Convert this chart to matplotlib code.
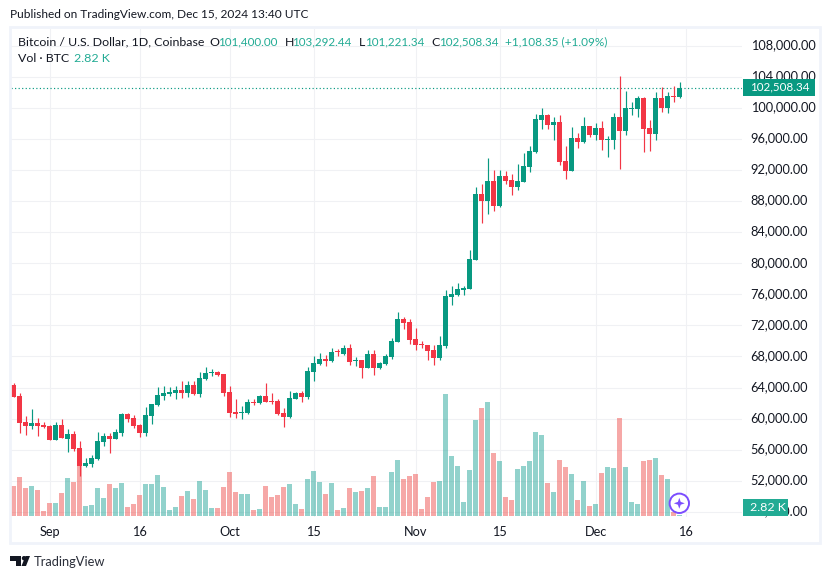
import numpy as np
import matplotlib
matplotlib.use("Agg")
import matplotlib.pyplot as plt
import matplotlib.dates as mdates
from matplotlib.patches import Rectangle, Circle, Polygon
from matplotlib.transforms import ScaledTranslation

opens = [64321,62906,59560,59045,59431,59174,59045,57243,59174,57372,58015,56213,53897,54154,54798,56986,57758,57372,58144,60589,
         60074,59174,58144,60332,61748,62906,63163,63292,63678,63292,64321,63163,65094,65866,65995,65737,63421,60847,60718,60718,
         62134,62005,62906,62262,62262,60718,60203,62520,63292,62777,65995,67024,67668,67410,68654,68268,69083,67410,67539,66509,
         68311,66509,67024,67925,69856,72816,72430,70242,69598,69470,68826,67796,69341,75647,75905,76548,76677,80409,88903,88002,
         90576,87359,91220,90705,89804,90448,92378,94309,98427,99071,97784,98170,93150,91863,96110,95596,97655,96497,97397,95853,
         95853,98813,97011,99843,99843,101258,97397,96625,101258,99971,101516,101400]
highs = [64579,63292,60332,61233,60074,59560,59174,59560,59946,58659,58401,57114,54927,55313,58273,58144,58144,58659,60718,60718,
         60461,59302,61490,61876,64064,64193,64064,64193,64836,64836,64836,65995,66638,66381,66123,65737,64193,62520,61619,62520,
         62520,63035,64579,63292,62520,61361,63549,63421,63549,66638,68054,68440,68182,69083,68955,69470,69598,67925,67539,68826,
         68826,67282,68311,70370,73717,73073,72816,71657,69985,69470,69470,70628,76548,77063,77449,77063,81696,89804,90190,93536,
         91992,91992,91863,91477,92764,94180,95081,99199,99971,99199,98813,99071,95081,97526,96754,98813,97655,98041,98298,96368,
         99328,104090,102159,100744,101516,101387,98427,102031,102674,102031,102803,103292]
lows = [62777,58144,57887,58659,57758,58787,57243,57243,57500,55699,55827,52610,53768,53768,54669,56471,55570,57372,57758,59560,
        58787,57629,57758,59302,61619,62391,62906,62520,62648,62777,63035,62777,64965,65480,65480,62906,60203,60074,59946,60589,
        61747,61876,62134,61876,60461,58916,60074,62520,62134,62520,64836,66896,66767,67282,68054,68182,66896,66767,65222,66509,
        65609,66381,66896,67668,69856,71529,69598,68826,69083,67539,66896,67539,69100,74618,75776,75905,76677,80409,85171,86329,
        86715,87230,90190,88775,89418,90448,91735,94180,97269,97269,95853,92636,90834,91863,94823,95467,96239,95853,94566,93665,
        94695,92121,96497,99071,98813,94309,94437,95853,99457,99328,100744,101221]
closes = [62777,59431,59045,59431,59045,58916,57243,59174,57500,58015,56085,53897,54283,54927,57114,57758,57372,58273,60589,59946,
          59045,58144,60461,61876,63035,63292,63421,63678,63292,64321,63163,65222,65866,65995,65609,63292,60718,60589,60847,62134,
          62005,62906,62134,62134,60589,60203,62648,63292,62777,66123,67153,67668,67410,68569,68526,69083,67282,67539,66509,68311,
          66509,67153,68054,69985,72816,72301,70113,69470,69470,68697,67796,69470,75776,76033,76677,76805,80538,88903,88002,90576,
          87359,91220,90576,89804,90576,92507,94437,98556,99071,97784,98170,93022,91863,96110,95596,97655,96497,97397,95853,95981,
          98813,97011,99971,99971,101258,97269,96625,101258,99971,101516,101387,102508]
volumes_k = [11.5,14.2,10.9,11.5,10.3,4.0,6.4,6.4,9.4,13.9,12.7,17.5,5.5,5.8,10.9,7.9,12.1,10.9,12.4,5.2,
             6.1,8.8,12.1,12.1,14.8,11.2,4.3,5.2,8.5,10.0,7.6,13.0,10.3,4.9,4.9,11.2,15.7,9.7,9.1,9.1,
             4.3,4.6,11.5,8.2,8.8,11.2,12.1,6.1,4.6,13.6,16.0,12.7,9.1,12.4,4.3,4.9,10.9,9.7,10.0,10.9,
             14.5,5.2,5.2,15.7,19.3,13.6,14.5,15.1,4.6,8.2,12.7,13.0,39.1,20.5,17.5,6.7,16.3,31.3,34.9,36.7,
             21.4,19.0,8.2,7.3,16.6,17.5,19.0,27.7,26.8,12.4,9.7,19.3,17.2,15.1,7.3,13.0,5.5,6.1,15.4,17.2,
             16.9,31.9,17.2,6.7,6.1,19.0,19.3,19.9,14.8,13.6,3.7,2.82]
price_ticks = [48000,52000,56000,60000,64000,68000,72000,76000,80000,84000,88000,92000,96000,100000,104000,108000]
x_tick_dates = ['2024-09-01','2024-09-16','2024-10-01','2024-10-15','2024-11-01','2024-11-15','2024-12-01','2024-12-16']
x_tick_labels = ['Sep','16','Oct','15','Nov','15','Dec','16']
last_price = 102508.34

GREEN, RED = '#089981', '#F23645'
VOL_GREEN, VOL_RED = '#26a69a', '#ef5350'
GRID = '#F0F1F4'
FRAME = '#F0F3FA'
TEXT = '#131722'
TEAL = '#22ab94'
FONT = ['Lato', 'DejaVu Sans']
plt.rcParams['font.family'] = FONT

W, H = 830, 579
fig = plt.figure(figsize=(W/100, H/100), dpi=100, facecolor='white')
L, R, T, B = 11, 741.5, 29, 517
rect = [L/W, 1-B/H, (R-L)/W, (B-T)/H]

start = mdates.date2num(np.datetime64('2024-08-26'))
x = start + np.arange(len(opens))
xlim = (start + (L-13.5)/6, start + (R-13.5)/6)
ylim = (104000-(B-76.7)*128.7, 104000+(76.7-T)*128.7)
vol_floor = 2.5
vlim = (vol_floor-(B-516)*0.3, vol_floor+(516-T)*0.3)

ax = fig.add_axes(rect, zorder=1)
ax.set_xlim(xlim); ax.set_ylim(ylim)
ax.set_yticks(price_ticks)
ax.set_yticklabels([f'{p:,.2f}' for p in price_ticks])
ax.yaxis.tick_right()
ax.set_xticks([mdates.date2num(np.datetime64(d)) for d in x_tick_dates])
ax.set_xticklabels(x_tick_labels)
ax.tick_params(length=0, labelsize=9.2, colors=TEXT)
ax.tick_params(axis='y', pad=6.5)
ax.tick_params(axis='x', pad=6.5)
ax.grid(True, color=GRID, lw=0.8)
for s in ax.spines.values():
    s.set_visible(False)
lift = ScaledTranslation(0, 1.5/100, fig.dpi_scale_trans)
for lab in ax.get_yticklabels():
    lab.set_transform(lab.get_transform() + lift)

av = fig.add_axes(rect, zorder=2, sharex=ax)
av.patch.set_visible(False)
av.set_ylim(vlim)
av.axis('off')
vcols = [VOL_GREEN if c >= o else VOL_RED for o, c in zip(opens, closes)]
av.bar(x, np.array(volumes_k)-vol_floor, bottom=vol_floor, width=5/6, color=vcols, alpha=0.5, lw=0)

ac = fig.add_axes(rect, zorder=3, sharex=ax)
ac.patch.set_visible(False)
ac.set_ylim(ylim)
ac.axis('off')
cols = [GREEN if c >= o else RED for o, c in zip(opens, closes)]
o, c = np.array(opens), np.array(closes)
ac.vlines(x, lows, highs, colors=cols, lw=0.85, zorder=2)
ac.bar(x, np.abs(c-o), bottom=np.minimum(o, c), width=5/6, color=cols, lw=0, zorder=3)
ac.axhline(last_price, color=GREEN, lw=0.85, ls=(0, (1, 2.0)), zorder=1)

# overlay in pixel coordinates for the chrome of the chart
ov = fig.add_axes([0, 0, 1, 1], zorder=5)
ov.set_xlim(0, W); ov.set_ylim(H, 0)
ov.axis('off')
ov.add_patch(Rectangle((10, 27), 810, 516, fill=False, ec=FRAME, lw=2.0))

def t(xp, yp, s, color=TEXT, size=8.9, **kw):
    ov.text(xp, yp, s, color=color, fontsize=size, va='center', **kw)

t(10, 15, 'Published on TradingView.com, Dec 15, 2024 13:40 UTC', size=8.6)
t(18, 42, 'Bitcoin / U.S. Dollar, 1D, Coinbase')
t(209.5, 42, 'O'); t(218.5, 42, '101,400.00', color=TEAL, size=8.4)
t(284.5, 42, 'H'); t(292.5, 42, '103,292.44', color=TEAL, size=8.4)
t(358.5, 42, 'L'); t(365.5, 42, '101,221.34', color=TEAL, size=8.4)
t(431.5, 42, 'C'); t(439, 42, '102,508.34', color=TEAL, size=8.4)
t(505, 42, '+1,108.35 (+1.09%)', color=TEAL, size=8.5)
t(18, 59, 'Vol · BTC')
t(74, 59, '2.82 K', color=TEAL)

ov.add_patch(Rectangle((743, 79), 72, 17, fc=GREEN, ec='none', zorder=4))
ov.text(750.5, 87.3, '102,508.34', color='white', fontsize=8.4, va='center', zorder=5)
ov.add_patch(Rectangle((743, 499), 45, 17, fc=TEAL, ec='none', zorder=4))
ov.text(750, 507.3, '2.82 K', color='white', fontsize=8.9, va='center', zorder=5)

# assistant badge
cx, cy = 679.3, 503.3
ov.add_patch(Circle((cx, cy), 9.7, fc='white', ec='#7B4DFF', lw=1.4, zorder=4))
sr, si = 5.5, 1.4
star = [(cx, cy-sr), (cx+si, cy-si), (cx+sr, cy), (cx+si, cy+si), (cx, cy+sr), (cx-si, cy+si), (cx-sr, cy), (cx-si, cy-si)]
ov.add_patch(Polygon(star, closed=True, fc='#7B4DFF', ec='none', zorder=5))

# TradingView logotype
ov.add_patch(Polygon([(10, 556), (21, 556), (21, 566), (16, 566), (16, 560.5), (10, 560.5)], fc='#131722', ec='none'))
ov.add_patch(Circle((24, 558.2), 2.2, fc='#131722', ec='none'))
ov.add_patch(Polygon([(25.5, 556), (30, 556), (26, 566), (21.5, 566)], fc='#131722', ec='none'))
t(34, 561.5, 'TradingView', color='#2a2e39', size=9.3)

fig.savefig('out.png', dpi=100)
